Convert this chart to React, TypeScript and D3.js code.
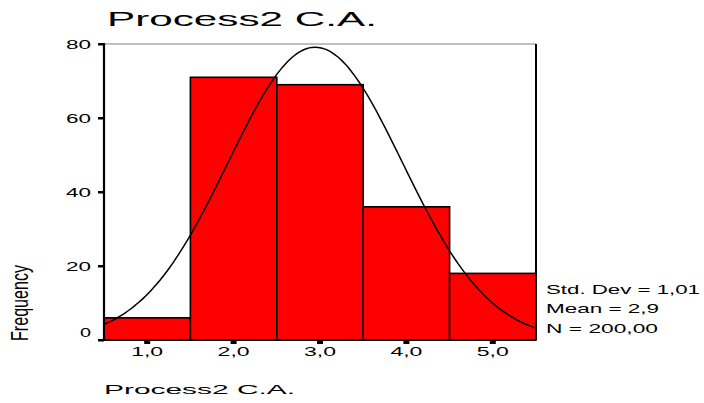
import React, { useMemo } from "react";
import * as d3 from "d3";

// histogram bins (category centers) and counts
const binCenters = [1, 2, 3, 4, 5];
const frequencies = [6, 71, 69, 36, 18];
const yTicks = [0, 20, 40, 60, 80];
const xTickLabels = ["1,0", "2,0", "3,0", "4,0", "5,0"];
const statLines = ["Std. Dev = 1,01", "Mean = 2,9", "N = 200,00"];
const statWidths = [154, 113, 112];

const W = 704;
const H = 403;
const LEFT = 104;
const RIGHT = 536;
const TOP = 44;
const BOTTOM = 340;
const FONT = "'Liberation Sans', Arial, sans-serif";

export default function App() {
  const x = useMemo(() => d3.scaleLinear().domain([0.5, 5.5]).range([LEFT, RIGHT]), []);
  const y = useMemo(() => d3.scaleLinear().domain([0, 80]).range([BOTTOM, TOP]), []);

  // fitted normal curve from the data's own mean / sd
  const curvePath = useMemo(() => {
    const n = d3.sum(frequencies);
    const mean = d3.sum(binCenters, (c, i) => c * frequencies[i]) / n;
    const ss = d3.sum(binCenters, (c, i) => frequencies[i] * (c - mean) ** 2);
    const sd = Math.sqrt(ss / (n - 1));
    const binWidth = 1;
    const pts = d3.range(0.5, 5.5001, 0.05).map((v) => {
      const z = (v - mean) / sd;
      const dens = (n * binWidth * Math.exp(-0.5 * z * z)) / (sd * Math.sqrt(2 * Math.PI));
      return [v, dens] as [number, number];
    });
    return d3
      .line<[number, number]>()
      .x((d) => x(d[0]))
      .y((d) => y(d[1]))
      .curve(d3.curveMonotoneX)(pts);
  }, [x, y]);

  return (
    <svg
      width={W}
      height={H}
      style={{ position: "absolute", left: 0, top: 0, background: "#fff" }}
      fontFamily={FONT}
    >
      {/* title */}
      <text x={107} y={26} fontSize={21} textLength={270} lengthAdjust="spacingAndGlyphs" fill="#000">
        Process2 C.A.
      </text>

      {/* frame */}
      <line x1={LEFT} x2={RIGHT} y1={TOP} y2={TOP} stroke="#808080" strokeWidth={1.2} />
      <line x1={RIGHT} x2={RIGHT} y1={TOP} y2={BOTTOM} stroke="#000" strokeWidth={2} />

      {/* bars */}
      {binCenters.map((c, i) => (
        <rect
          key={c}
          x={x(c - 0.5)}
          y={y(frequencies[i])}
          width={x(c + 0.5) - x(c - 0.5)}
          height={BOTTOM - y(frequencies[i])}
          fill="#ff0000"
          stroke="#000"
          strokeWidth={1.6}
        />
      ))}

      {/* normal curve */}
      <path d={curvePath || ""} fill="none" stroke="#000" strokeWidth={1.5} />

      {/* axes */}
      <line x1={LEFT} x2={LEFT} y1={TOP - 1} y2={BOTTOM + 1} stroke="#000" strokeWidth={2.2} />
      <line x1={LEFT} x2={RIGHT} y1={BOTTOM} y2={BOTTOM} stroke="#000" strokeWidth={2} />

      {yTicks.map((t) => (
        <g key={t}>
          <rect x={98} y={y(t) - 1} width={6} height={2.5} fill="#000" />
          <text
            x={91}
            y={Math.min(y(t) + 4.5, 337)}
            fontSize={12.5}
            textAnchor="end"
            textLength={t === 0 ? 11 : 25}
            lengthAdjust="spacingAndGlyphs"
          >
            {t}
          </text>
        </g>
      ))}

      {binCenters.map((c, i) => (
        <g key={c}>
          <rect x={x(c) - 3} y={BOTTOM + 1} width={6} height={3} fill="#000" />
          <text
            x={x(c) - 16}
            y={356}
            fontSize={13}
            textLength={32}
            lengthAdjust="spacingAndGlyphs"
          >
            {xTickLabels[i]}
          </text>
        </g>
      ))}

      {/* axis titles */}
      <text x={104} y={394} fontSize={13.5} textLength={191} lengthAdjust="spacingAndGlyphs">
        Process2 C.A.
      </text>
      <text
        transform="translate(28,341) scale(1.485,1) rotate(-90)"
        fontSize={16}
        textLength={76}
        lengthAdjust="spacingAndGlyphs"
      >
        Frequency
      </text>

      {/* stats */}
      {statLines.map((s, i) => (
        <text
          key={s}
          x={546}
          y={[294, 313, 333][i]}
          fontSize={13}
          textLength={statWidths[i]}
          lengthAdjust="spacingAndGlyphs"
        >
          {s}
        </text>
      ))}
    </svg>
  );
}
